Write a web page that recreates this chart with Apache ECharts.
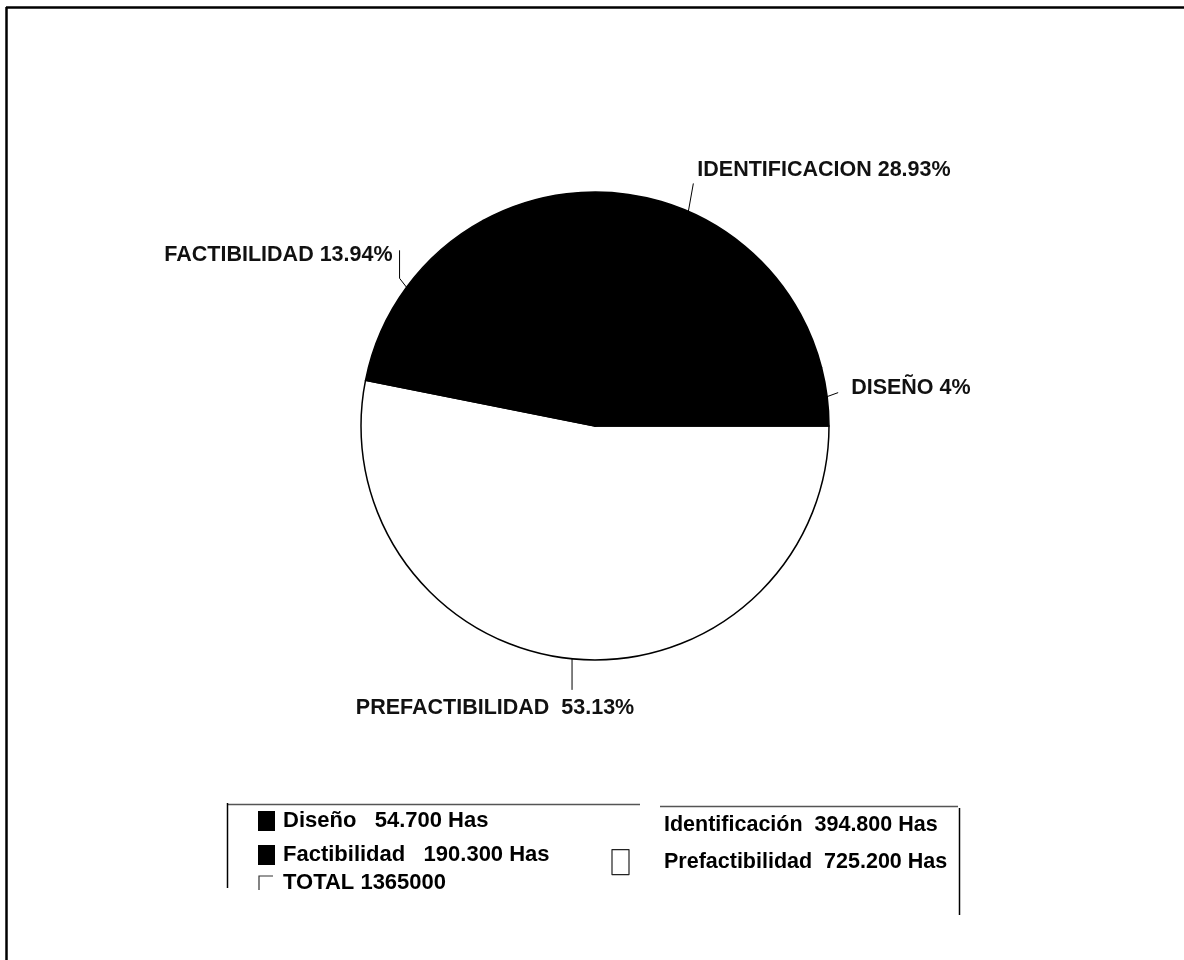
<!DOCTYPE html>
<html>
<head>
<meta charset="utf-8">
<script src="https://cdn.jsdelivr.net/npm/echarts@6/dist/echarts.min.js"></script>
<style>
html,body{margin:0;padding:0;background:#fff;}
#chart{width:1184px;height:960px;}
</style>
</head>
<body>
<div id="chart"></div>
<script>
// Data (hectares)
var categories = ['Prefactibilidad', 'Factibilidad', 'Identificación', 'Diseño'];
var values = [725200, 190300, 394800, 54700];
var pieLabels = ['PREFACTIBILIDAD  53.13%', 'FACTIBILIDAD 13.94%', 'IDENTIFICACION 28.93%', 'DISEÑO 4%'];
var sliceColors = ['#ffffff', '#000000', '#000000', '#000000'];
var legendLeft = ['Diseño', 'Factibilidad'];
var legendRight = ['Identificación', 'Prefactibilidad'];
var totalLabel = 'TOTAL';

// label placement style (offsets relative to the slice edge point)
var labelStyleOffsets = [
  { line: [[0, 31]], label: [-77, 49], align: 'center' },
  { line: [[-7, -9], [-7, -37]], label: [-14, -32], align: 'right' },
  { line: [[5, -28]], label: [9, -41], align: 'left' },
  { line: [[11, -4]], label: [24, -9], align: 'left' }
];

function thousands(v) {
  var th = Math.floor(v / 1000);
  var rest = v % 1000;
  return th + '.' + String(rest).padStart(3, '0');
}
var total = values.reduce(function (a, b) { return a + b; }, 0);

var chart = echarts.init(document.getElementById('chart'));
var font = 'Liberation Sans, Arial, sans-serif';

var data = categories.map(function (c, i) {
  return {
    name: c,
    value: values[i],
    itemStyle: { color: sliceColors[i] },
    label: { formatter: pieLabels[i] }
  };
});

function makeLegendFormatter(gap) {
  return function (name) {
    var i = categories.indexOf(name);
    return name + gap + thousands(values[i]) + ' Has';
  };
}

var option = {
  backgroundColor: '#ffffff',
  animation: false,
  legend: [
    {
      orient: 'vertical',
      left: 258,
      top: 810,
      padding: 0,
      itemWidth: 17,
      itemHeight: 20,
      itemGap: 12,
      icon: 'rect',
      data: legendLeft,
      formatter: makeLegendFormatter('   '),
      selectedMode: false,
      textStyle: { fontFamily: font, fontSize: 22, fontWeight: 'bold', color: '#000', padding: [0, 0, 0, 3] },
      itemStyle: { borderWidth: 0 }
    },
    {
      orient: 'vertical',
      left: 611,
      top: 812,
      padding: 0,
      itemWidth: 17,
      itemHeight: 25,
      itemGap: 10,
      icon: 'rect',
      data: [
        { name: legendRight[0], itemStyle: { opacity: 0 } },
        { name: legendRight[1], itemStyle: { color: '#fff', borderColor: '#222', borderWidth: 1.2 } }
      ],
      formatter: makeLegendFormatter('  '),
      selectedMode: false,
      textStyle: { fontFamily: font, fontSize: 21.5, fontWeight: 'bold', color: '#000', padding: [0, 0, 0, 30] }
    }
  ],
  graphic: [
    // outer frame (top and left edges)
    { type: 'line', shape: { x1: 6, y1: 7.5, x2: 1184, y2: 7.5 }, style: { stroke: '#000', lineWidth: 2.5 } },
    { type: 'line', shape: { x1: 6.5, y1: 7, x2: 6.5, y2: 960 }, style: { stroke: '#000', lineWidth: 2.5 } },
    // legend box
    { type: 'line', shape: { x1: 227, y1: 804.5, x2: 640, y2: 804.5 }, style: { stroke: '#555', lineWidth: 1.5 } },
    { type: 'line', shape: { x1: 660, y1: 806.5, x2: 958, y2: 806.5 }, style: { stroke: '#555', lineWidth: 1.5 } },
    { type: 'line', shape: { x1: 227.5, y1: 803, x2: 227.5, y2: 888 }, style: { stroke: '#000', lineWidth: 1.5 } },
    { type: 'line', shape: { x1: 959.5, y1: 808, x2: 959.5, y2: 915 }, style: { stroke: '#000', lineWidth: 1.5 } },
    // TOTAL entry
    { type: 'polyline', shape: { points: [[259, 890], [259, 876], [273, 876]] }, style: { stroke: '#333', lineWidth: 1.2, fill: null } },
    {
      type: 'text', left: 283, top: 872,
      style: { text: totalLabel + ' ' + total, fontFamily: font, fontSize: 22, fontWeight: 'bold', fill: '#000' }
    }
  ],
  series: [
    {
      type: 'pie',
      center: [595, 426],
      radius: 234,
      startAngle: 0,
      clockwise: true,
      data: data,
      itemStyle: { borderColor: '#000', borderWidth: 1.5 },
      label: {
        show: true,
        position: 'outside',
        fontFamily: font,
        fontSize: 21.5,
        fontWeight: 'bold',
        color: '#111'
      },
      labelLine: {
        show: true,
        length: 22,
        length2: 8,
        lineStyle: { color: '#000', width: 1 }
      },
      labelLayout: function (params) {
        var s = labelStyleOffsets[params.dataIndex];
        var pts = params.labelLinePoints;
        if (!s || !pts) return {};
        var p0 = pts[0];
        var linePts = [p0].concat(s.line.map(function (d) { return [p0[0] + d[0], p0[1] + d[1]]; }));
        return {
          x: p0[0] + s.label[0],
          y: p0[1] + s.label[1],
          align: s.align,
          verticalAlign: 'middle',
          labelLinePoints: linePts
        };
      },
      emphasis: { disabled: true }
    }
  ]
};
chart.setOption(option);
</script>
</body>
</html>
